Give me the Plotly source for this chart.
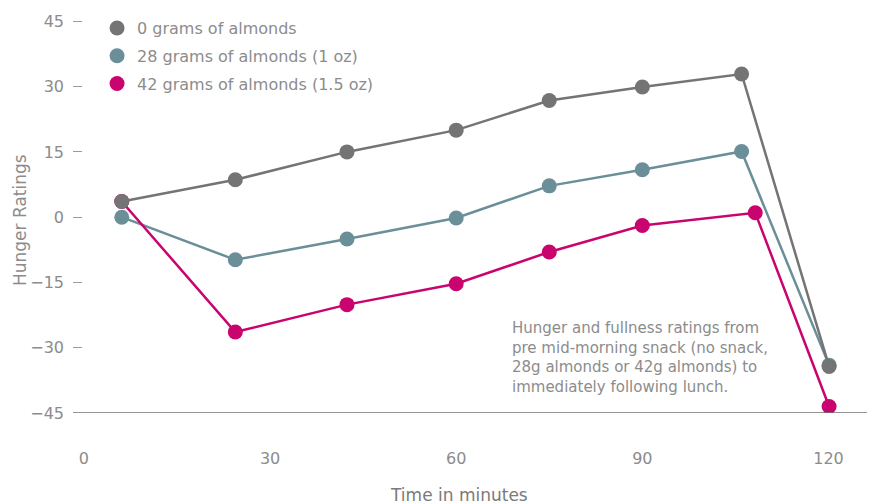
import plotly.graph_objects as go

minutes = [6.1, 24.4, 42.4, 60.0, 75.0, 90.0, 106.0, 120.1]
minutes_42g = [6.1, 24.4, 42.4, 60.0, 75.0, 90.0, 108.2, 120.1]
hunger_0g = [3.6, 8.6, 15.0, 20.0, 26.8, 29.9, 32.9, -34.3]
hunger_28g = [0.0, -9.8, -5.0, -0.2, 7.2, 10.9, 15.1, -34.0]
hunger_42g = [3.6, -26.4, -20.1, -15.3, -8.0, -1.9, 1.0, -43.5]
series_names = ["0 grams of almonds", "28 grams of almonds (1 oz)", "42 grams of almonds (1.5 oz)"]
colors = ["#747474", "#6b8f98", "#c9046f"]
x_ticks = [0, 30, 60, 90, 120]
y_ticks = [-45, -30, -15, 0, 15, 30, 45]
note = ("Hunger and fullness ratings from<br>pre mid-morning snack (no snack,<br>"
        "28g almonds or 42g almonds) to<br>immediately following lunch.")

FONT = "DejaVu Sans"
GREY_TXT = "#8c8c8c"

fig = go.Figure()
# draw order: teal, magenta, gray
for xs, ys, c in [(minutes, hunger_28g, colors[1]), (minutes_42g, hunger_42g, colors[2]),
                  (minutes, hunger_0g, colors[0])]:
    fig.add_trace(go.Scatter(x=xs, y=ys, mode="lines+markers", showlegend=False,
                             line=dict(color=c, width=2.5),
                             marker=dict(color=c, size=15)))
# legend entries (markers only)
for i, (name, c) in enumerate(zip(series_names, colors)):
    fig.add_trace(go.Scatter(x=[None], y=[None], mode="markers", name=name,
                             legendgroup=f"g{i}",
                             marker=dict(color=c, size=15)))

fig.update_layout(
    width=867, height=496,
    margin=dict(l=65, r=0, t=9, b=91, autoexpand=False),
    paper_bgcolor="white", plot_bgcolor="white",
    font=dict(family=FONT, color=GREY_TXT),
    legend=dict(x=0.03, y=1.015, xanchor="left", yanchor="top",
                font=dict(size=16, color=GREY_TXT), tracegroupgap=4,
                traceorder="grouped", bgcolor="rgba(0,0,0,0)"),
    xaxis=dict(range=[-1.76, 127.5], tickvals=x_ticks, showgrid=False, zeroline=False,
               showline=False, ticks="", tickfont=dict(size=16, color=GREY_TXT),
               ticklabelstandoff=34),
    yaxis=dict(range=[-45, 46.0], tickvals=y_ticks, showgrid=False, zeroline=False,
               showline=False, ticks="inside", ticklen=9, tickcolor="#9a9a9a", tickwidth=1,
               tickfont=dict(size=16, color=GREY_TXT), ticklabelstandoff=8),
    shapes=[dict(type="line", xref="paper", yref="y", x0=0, x1=1, y0=-45, y1=-45,
                 line=dict(color="#707070", width=1.5))],
    annotations=[
        dict(text=note, xref="paper", yref="paper", x=(510 - 73) / 802, y=(413 - 317) / 396,
             xanchor="left", yanchor="top", align="left", showarrow=False,
             font=dict(size=15, color=GREY_TXT, family=FONT)),
        dict(text="Time in minutes", xref="paper", yref="paper", x=(459 - 73) / 802,
             y=-(495 - 413) / 396, xanchor="center", yanchor="middle", showarrow=False,
             font=dict(size=17, color="#7a7a7a", family=FONT)),
        dict(text="Hunger Ratings", xref="paper", yref="paper", x=(20 - 73) / 802,
             y=(413 - 220) / 396, xanchor="center", yanchor="middle", textangle=-90,
             showarrow=False, font=dict(size=17, color=GREY_TXT, family=FONT)),
    ],
)

fig.write_html("out.html")
